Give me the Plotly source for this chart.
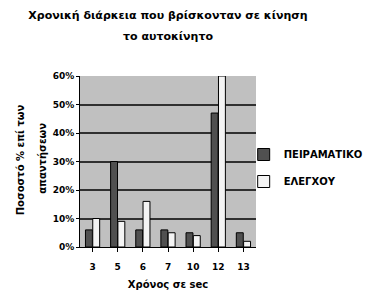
import plotly.graph_objects as go

categories = ["3", "5", "6", "7", "10", "12", "13"]
peiramatiko = [0.06, 0.30, 0.06, 0.06, 0.05, 0.47, 0.05]
elegxou = [0.10, 0.09, 0.16, 0.05, 0.04, 0.60, 0.02]
series_names = ["ΠΕΙΡΑΜΑΤΙΚΟ", "ΕΛΕΓΧΟΥ"]
title_lines = ["Χρονική διάρκεια που βρίσκονταν σε κίνηση", "το αυτοκίνητο"]
ytitle_lines = ["Ποσοστό % επί των", "απαντήσεων"]

FAM = "DejaVu Sans, Liberation Sans, sans-serif"
tickfont = dict(family=FAM, size=9, color="black", weight="bold")
titlefont = dict(family=FAM, size=10, color="black", weight="bold")

L, R, T, B = 80, 120, 76, 50
PW, PH = 380 - L - R, 297 - T - B

fig = go.Figure()
fig.add_trace(go.Bar(x=categories, y=peiramatiko, name=series_names[0], legendgroup="a",
                     marker=dict(color="#505050", line=dict(color="black", width=1))))
fig.add_trace(go.Bar(x=categories, y=elegxou, name=series_names[1], legendgroup="b",
                     marker=dict(color="#f4f4f4", line=dict(color="black", width=1))))

annotations = [
    dict(text=title_lines[1], xref="paper", yref="paper",
         x=0.5, y=1.0 + (T - 37) / PH, xanchor="center", yanchor="middle",
         showarrow=False, font=dict(family=FAM, size=11, color="black", weight="bold")),
    dict(text=ytitle_lines[0], xref="paper", yref="paper", textangle=-90,
         x=(19 - L) / PW, y=1.0 - (160 - T) / PH, xanchor="center", yanchor="middle",
         showarrow=False, font=titlefont),
    dict(text=ytitle_lines[1], xref="paper", yref="paper", textangle=-90,
         x=(41 - L) / PW, y=1.0 - (158 - T) / PH, xanchor="center", yanchor="middle",
         showarrow=False, font=titlefont),
]

fig.update_layout(
    width=380, height=297,
    margin=dict(l=L, r=R, t=T, b=B),
    paper_bgcolor="white", plot_bgcolor="#c0c0c0",
    barmode="group", bargap=0.42, bargroupgap=0.05,
    font=tickfont,
    title=dict(text=title_lines[0],
               x=0.5, xanchor="center", xref="paper", y=1 - 15 / 297, yanchor="middle",
               font=dict(family=FAM, size=11, color="black", weight="bold")),
    annotations=annotations,
    legend=dict(x=0.93, y=1.0 - (168 - T) / PH, xanchor="left", yanchor="middle",
                font=dict(family=FAM, size=10, color="black", weight="bold"),
                bgcolor="rgba(0,0,0,0)", traceorder="grouped", tracegroupgap=8, itemwidth=30),
    xaxis=dict(title=dict(text="Χρόνος σε sec", standoff=10, font=titlefont),
               automargin=False, ticklabelstandoff=7,
               showline=True, linecolor="black", ticks="outside", ticklen=4,
               tickcolor="black", tickfont=tickfont),
    yaxis=dict(automargin=False,
               range=[0, 0.6], dtick=0.1, tickformat=".0%",
               showgrid=True, gridcolor="#303030", gridwidth=1.5,
               showline=True, linecolor="black", ticks="outside", ticklen=3,
               tickcolor="black", tickfont=tickfont, zeroline=False),
)

fig.write_html("out.html", config={"displayModeBar": False},
               post_script="document.body.style.margin='0';")
